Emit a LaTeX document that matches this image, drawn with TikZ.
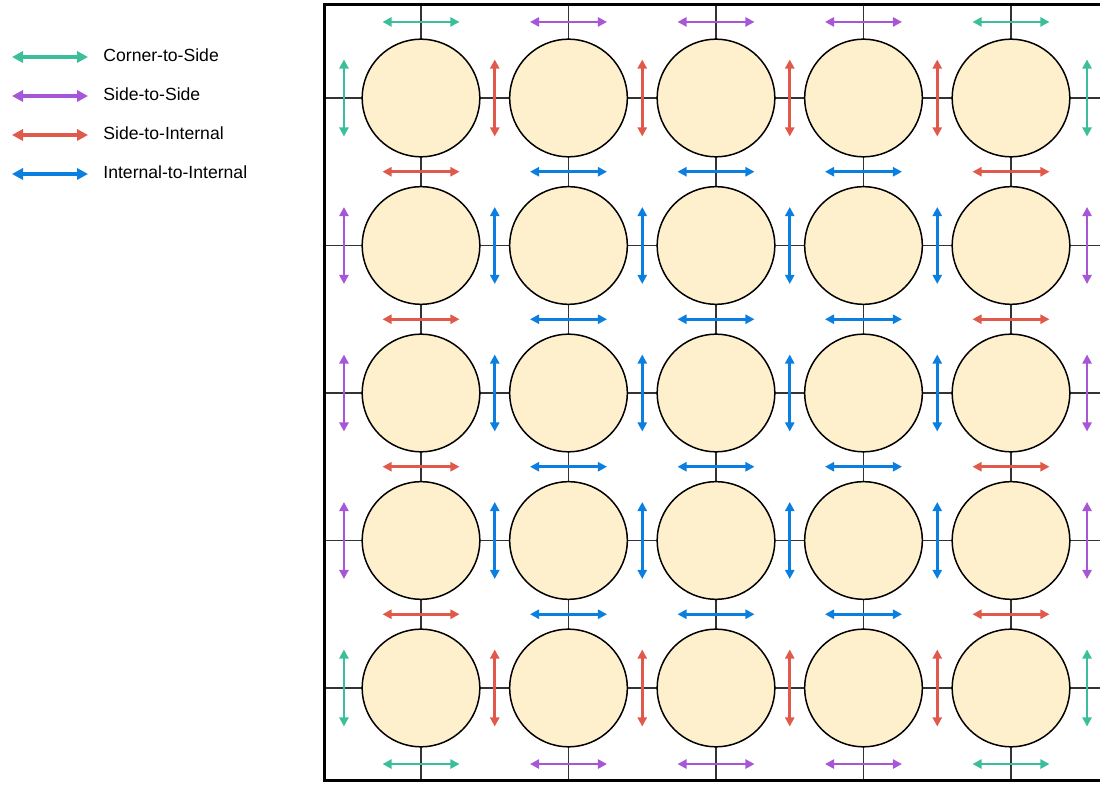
\documentclass[tikz,border=0pt]{standalone}
\usepackage{fontspec}
\setmainfont{Liberation Sans}
\usetikzlibrary{positioning,arrows.meta,calc,backgrounds}

\definecolor{cCS}{HTML}{3DBE9B}
\definecolor{cSS}{HTML}{A756D8}
\definecolor{cSI}{HTML}{E05A4B}
\definecolor{cII}{HTML}{0B7FE0}
\definecolor{ballfill}{HTML}{FFF0CD}

\begin{document}
\begin{tikzpicture}[
    x=0.5pt, y=-0.5pt,
    font=\fontsize{8.8}{10.5}\selectfont,
    ball/.style={circle, draw=black, line width=0.75pt, fill=ballfill, minimum size=58.8pt, inner sep=0pt},
    gridline/.style={line width=0.75pt, black!80},
    boxedge/.style={line width=1.5pt, black},
    dbl/.style={line width=1.3pt, {Triangle[length=4.6pt,width=4.6pt]}-{Triangle[length=4.6pt,width=4.6pt]}},
    cornerside/.style={dbl, cCS},
    sideside/.style={dbl, cSS},
    sideint/.style={dbl, cSI},
    intint/.style={dbl, cII},
    legarr/.style={line width=1.8pt, {Triangle[length=5.5pt,width=5.6pt]}-{Triangle[length=5.5pt,width=5.6pt]}},
    legtxt/.style={inner sep=0pt}
]
\useasboundingbox (0,0) rectangle (1100,786);

% =========================================================
% Legend
% =========================================================
\foreach \y/\s/\t in {57/cornerside/Corner-to-Side, 96/sideside/Side-to-Side,
                      135/sideint/Side-to-Internal, 174/intint/Internal-to-Internal} {
  \coordinate (k-\s-a) at (12,\y);
  \coordinate (k-\s-b) at (88,\y);
  \draw[\s, legarr] (k-\s-a) -- (k-\s-b);
  \node[legtxt, anchor=base west] (k-\s) at (103,\y+4.5) {\t};
}

% =========================================================
% Box and 5x5 array of balls
% =========================================================
\coordinate (nw) at (324,5);
\coordinate (ne) at (1100,5);
\coordinate (sw) at (324,781);
\coordinate (se) at (1100,781);

\foreach \r in {1,...,5}
  \foreach \c in {1,...,5}
    \node[ball] (b\r\c) at ({421+147.5*(\c-1)}, {98+147.5*(\r-1)}) {};

\begin{pgfonlayer}{background}
  \foreach \i in {1,...,5} {
    \draw[gridline] (b\i1 -| nw) -- (b\i1 -| ne);
    \draw[gridline] (b1\i |- nw) -- (b1\i |- sw);
  }
\end{pgfonlayer}

\draw[boxedge] (ne) -- (nw) -- (sw) -- (se);

% =========================================================
% Horizontal arrows (gaps between rows)
% =========================================================
\foreach \c/\s in {1/cornerside,2/sideside,3/sideside,4/sideside,5/cornerside} {
  \draw[\s] ($(b1\c.north)+(-38.5,-16.5)$) -- ++(77,0);
  \draw[\s] ($(b5\c.south)+(-38.5,16.5)$) -- ++(77,0);
}
\foreach \r [count=\n from 2] in {1,...,4}
  \foreach \c/\s in {1/sideint,2/intint,3/intint,4/intint,5/sideint} {
    \coordinate (m) at ($(b\r\c.south)!.5!(b\n\c.north)$);
    \draw[\s] ($(m)+(-38.5,0)$) -- ($(m)+(38.5,0)$);
  }

% =========================================================
% Vertical arrows (gaps between columns)
% =========================================================
\foreach \r/\s in {1/cornerside,2/sideside,3/sideside,4/sideside,5/cornerside} {
  \draw[\s] ($(b\r1.west)+(-17.5,-38.5)$) -- ++(0,77);
  \draw[\s] ($(b\r5.east)+(16.5,-38.5)$) -- ++(0,77);
}
\foreach \c [count=\n from 2] in {1,...,4}
  \foreach \r/\s in {1/sideint,2/intint,3/intint,4/intint,5/sideint} {
    \coordinate (m) at ($(b\r\c.east)!.5!(b\r\n.west)$);
    \draw[\s] ($(m)+(0,-38.5)$) -- ($(m)+(0,38.5)$);
  }

\end{tikzpicture}
\end{document}
